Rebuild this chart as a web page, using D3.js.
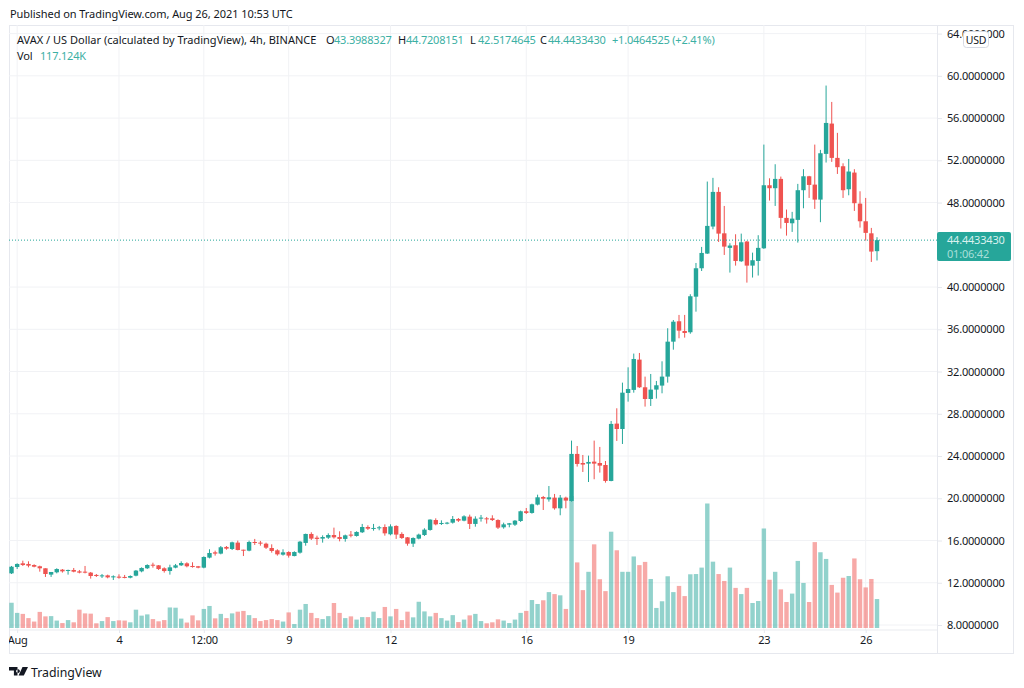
<!DOCTYPE html>
<html>
<head>
<meta charset="utf-8">
<script src="https://cdn.jsdelivr.net/npm/d3@7"></script>
<style>
  html, body { margin: 0; padding: 0; background: #fff; }
  svg { display: block; }
  text { font-family: "Noto Sans", sans-serif; fill: #131722; letter-spacing: -0.2px; }
</style>
</head>
<body>
<script>
// bars are 4h, Jul 31 20:00 -> Aug 26 08:00
const opens = [
  12.89,13.49,13.84,13.78,13.68,13.56,13.37,12.77,12.99,13.24,
  13.15,13.21,13.08,13.05,12.96,12.74,12.61,12.70,12.51,12.58,
  12.55,12.48,12.67,13.08,13.37,13.71,13.65,13.37,13.11,13.43,
  13.65,13.84,13.59,13.56,13.43,14.38,14.88,14.76,15.39,15.20,
  15.80,15.13,15.04,15.86,15.80,15.70,15.29,15.07,14.66,14.91,
  14.53,14.85,15.77,16.62,16.27,16.18,16.27,16.52,16.33,16.15,
  16.56,16.43,16.78,17.28,17.12,17.16,17.28,16.59,17.38,16.62,
  16.30,15.70,16.18,16.52,17.00,17.94,17.57,17.60,17.69,18.04,
  17.88,18.26,17.57,18.07,18.10,18.10,17.94,17.25,17.50,17.50,
  17.85,18.77,18.61,19.40,20.12,19.90,20.06,19.05,20.06,19.74,
  24.20,23.34,23.28,23.47,23.34,23.15,21.64,27.07,26.56,29.97,
  30.26,33.13,30.51,29.40,30.29,30.67,31.52,34.83,36.76,35.84,
  35.72,39.09,41.78,43.17,45.73,49.01,45.09,43.71,43.96,42.44,
  44.31,42.03,42.47,43.67,49.64,49.36,50.24,46.55,46.04,46.36,
  49.17,50.49,49.70,48.28,52.61,55.48,52.23,51.44,49.26,50.84,
  47.90,46.23,45.09,43.3988];
const highs = [
  13.59,13.84,14.09,14.03,13.75,13.62,13.37,13.02,13.37,13.30,
  13.24,13.40,13.21,13.59,13.02,12.83,12.83,12.77,12.70,12.80,
  12.74,12.70,13.21,13.46,13.75,13.90,13.68,13.46,13.71,13.78,
  14.03,13.94,13.94,13.59,14.50,15.17,15.04,15.48,15.48,15.89,
  15.99,15.13,15.99,16.15,15.96,15.80,15.64,15.17,15.17,14.98,
  14.98,15.96,16.65,16.78,16.46,16.49,16.68,17.22,16.87,16.56,
  16.90,16.87,17.57,17.44,17.57,17.38,17.53,17.53,17.44,16.78,
  16.33,16.30,16.65,17.16,18.01,18.10,17.91,17.76,18.32,18.13,
  18.39,18.45,18.29,18.42,18.23,18.39,18.01,17.69,17.66,17.94,
  18.83,19.08,19.49,20.34,20.22,21.16,20.41,20.31,20.15,25.46,
  24.95,24.10,24.04,25.46,24.86,23.53,27.32,28.52,30.95,32.40,
  33.70,33.76,31.52,31.77,31.11,32.97,36.10,36.88,37.36,37.36,
  39.32,42.28,43.80,49.99,50.34,49.45,47.68,44.15,45.00,45.06,
  44.37,43.26,44.91,53.49,50.30,51.63,50.46,47.34,47.12,49.77,
  51.16,50.53,53.49,52.99,59.08,57.53,54.60,51.72,52.13,51.16,
  49.07,48.44,45.60,44.7208];
const lows = [
  12.83,13.30,13.59,13.46,13.46,13.05,12.55,12.55,12.89,12.96,
  12.77,12.99,12.89,12.89,12.39,12.55,12.45,12.42,12.26,12.39,
  12.42,12.42,12.61,12.99,13.30,13.43,13.21,12.96,12.77,13.37,
  13.59,13.46,13.43,13.37,13.37,14.31,14.57,14.69,15.13,15.10,
  15.07,14.53,14.98,15.58,15.51,15.20,14.85,14.57,14.57,14.38,
  14.50,14.76,15.51,16.05,15.58,15.80,16.15,16.18,15.92,15.89,
  16.30,16.37,16.71,17.00,16.93,16.97,16.46,16.49,16.15,16.15,
  15.51,15.39,16.11,16.43,16.93,17.44,17.47,17.53,17.60,17.76,
  17.82,17.09,17.31,17.79,17.60,17.85,17.09,17.12,17.25,17.38,
  17.76,18.51,18.54,19.33,18.89,19.68,18.92,18.39,19.05,19.68,
  23.00,22.49,21.54,21.80,22.43,21.48,21.61,25.43,25.14,29.15,
  30.00,30.45,28.68,28.74,29.44,29.94,30.95,34.07,35.15,35.21,
  35.58,37.67,41.52,43.14,45.47,44.27,43.04,41.37,42.03,42.38,
  40.42,40.90,41.09,43.61,48.19,47.68,45.54,44.87,45.22,44.21,
  47.46,48.44,47.40,46.14,51.79,51.85,50.71,48.44,48.69,47.21,
  45.63,44.40,42.38,42.5175];
const closes = [
  13.52,13.78,13.68,13.62,13.52,13.37,12.83,13.02,13.30,13.08,
  13.21,13.05,12.96,12.99,12.64,12.64,12.70,12.51,12.61,12.48,
  12.48,12.64,13.15,13.40,13.68,13.65,13.30,13.11,13.46,13.65,
  13.87,13.56,13.49,13.43,14.44,14.82,14.76,15.36,15.23,15.83,
  15.10,15.04,15.86,15.80,15.73,15.32,15.01,14.69,14.88,14.57,
  14.91,15.89,16.62,16.18,16.15,16.33,16.52,16.30,16.15,16.49,
  16.46,16.81,17.28,17.12,17.19,17.25,16.68,17.34,16.56,16.24,
  15.70,16.24,16.56,17.03,17.98,17.53,17.66,17.69,18.04,17.88,
  18.29,17.57,18.07,18.17,18.04,17.94,17.22,17.53,17.63,17.88,
  18.77,18.61,19.43,20.09,19.96,20.09,19.05,20.06,19.78,24.20,
  23.25,23.19,23.44,23.28,23.09,21.64,27.04,26.56,30.00,30.35,
  33.19,30.51,29.40,30.29,30.70,31.52,34.83,36.72,35.87,35.65,
  39.13,41.78,43.23,45.79,49.01,45.06,43.83,43.93,42.47,44.24,
  42.03,42.54,43.71,49.64,49.36,50.24,46.55,46.07,46.48,49.17,
  50.49,49.67,48.28,52.67,55.54,52.23,51.35,49.17,50.94,47.94,
  46.23,45.13,43.36,44.4433];
// volume in thousands
const volumes = [
  102,61,57,40,26,65,47,48,30,20,
  32,23,74,59,58,19,28,44,28,31,
  30,23,74,50,55,36,27,32,83,82,
  38,22,51,31,77,89,39,57,40,59,
  66,69,52,40,28,32,36,32,26,63,
  16,74,97,61,40,36,48,101,61,40,
  47,34,44,44,66,40,85,47,77,32,
  66,43,106,67,47,61,40,30,52,24,
  34,51,57,28,19,23,35,30,20,34,
  61,69,113,97,112,145,137,132,77,533,
  265,153,227,338,197,149,389,314,227,227,
  289,254,267,198,81,108,209,145,170,129,
  217,218,244,503,268,218,190,244,162,137,
  162,101,109,402,195,227,156,105,139,271,
  182,105,347,306,279,174,143,203,210,281,
  197,164,198,117];

const priceTicks = [8,12,16,20,24,28,32,36,40,48,52,56,60,64];
const timeLabels = ['Aug','4','12:00','9','12','16','19','23','26'];
const timeBars = [1,19,34,49,67,91,109,133,151];

const lastPrice = 44.4433430;
const countdown = '01:06:42';
const legendVals = [
  ['O','43.3988327',326], ['H','44.7208151',398], ['L','42.5174645',470], ['C','44.4433430',540]
];

const UP = '#26a69a', DOWN = '#ef5350', GRID = '#f1f2f5', LINE = '#e6e8ee';
const W = 1024, H = 688;

const svg = d3.select('body').append('svg').attr('width', W).attr('height', H);

const x = d3.scaleLinear().domain([0, opens.length - 1]).range([11.5, 877]);
const y = d3.scaleLinear().domain([8, 64]).range([625, 33.6]);
const yVol = d3.scaleLinear().domain([0, 404]).range([628, 528]);

const bars = d3.range(opens.length).map(i => ({
  i, o: opens[i], h: highs[i], l: lows[i], c: closes[i], v: volumes[i], up: closes[i] >= opens[i]
}));

svg.append('clipPath').attr('id', 'pane').append('rect')
  .attr('x', 9).attr('y', 25).attr('width', 928).attr('height', 629);

// frame
svg.append('rect').attr('x', 9.5).attr('y', 25.5).attr('width', 1004).attr('height', 628)
  .attr('fill', 'none').attr('stroke', LINE);

// grid
svg.append('g').selectAll('line').data(priceTicks).join('line')
  .attr('x1', 9).attr('x2', 937)
  .attr('y1', d => y(d)).attr('y2', d => y(d))
  .attr('stroke', GRID);
svg.append('g').selectAll('line').data(timeBars).join('line')
  .attr('x1', d => x(d)).attr('x2', d => x(d))
  .attr('y1', 25).attr('y2', 630)
  .attr('stroke', GRID);

// volume
svg.append('g').selectAll('rect').data(bars).join('rect')
  .attr('x', d => x(d.i) - 2.2).attr('width', 4.4)
  .attr('y', d => yVol(d.v)).attr('height', d => yVol(0) - yVol(d.v))
  .attr('fill', d => d.up ? UP : DOWN).attr('fill-opacity', 0.5);

// wicks + bodies
svg.append('g').selectAll('line').data(bars).join('line')
  .attr('x1', d => x(d.i)).attr('x2', d => x(d.i))
  .attr('y1', d => y(d.h)).attr('y2', d => y(d.l))
  .attr('stroke', d => d.up ? UP : DOWN);
svg.append('g').selectAll('rect').data(bars).join('rect')
  .attr('x', d => x(d.i) - 2.2).attr('width', 4.4)
  .attr('y', d => y(Math.max(d.o, d.c)))
  .attr('height', d => Math.max(1, Math.abs(y(d.o) - y(d.c))))
  .attr('fill', d => d.up ? UP : DOWN);

// last price line
svg.append('line')
  .attr('x1', 9).attr('x2', 937)
  .attr('y1', y(lastPrice)).attr('y2', y(lastPrice))
  .attr('stroke', UP).attr('stroke-dasharray', '1 2');

// right axis
const yAxis = svg.append('g').attr('transform', 'translate(937,0)')
  .call(d3.axisRight(y).tickValues(priceTicks).tickFormat(d3.format('.7f')).tickSize(5).tickPadding(5));
yAxis.select('.domain').remove();
yAxis.selectAll('line').attr('stroke', LINE);
yAxis.selectAll('text').style('font-size', '11px');
svg.append('line').attr('x1', 937.5).attr('x2', 937.5).attr('y1', 25).attr('y2', 654).attr('stroke', LINE);

// time axis, clip sits on the outer g so "Aug" gets cut at the pane edge
svg.append('rect').attr('x', 9).attr('y', 629).attr('width', 928).attr('height', 2).attr('fill', LINE).attr('fill-opacity', 0.45);
const xAxis = svg.append('g').attr('clip-path', 'url(#pane)').append('g').attr('transform', 'translate(0,630)')
  .call(d3.axisBottom(x).tickValues(timeBars).tickFormat((d, i) => timeLabels[i]).tickSize(3).tickPadding(3));
xAxis.select('.domain').remove();
xAxis.selectAll('line').attr('stroke', LINE);
xAxis.selectAll('text').style('font-size', '11px');

// last price tag
const tag = svg.append('g');
tag.append('rect').attr('x', 937).attr('y', 232).attr('width', 74).attr('height', 29).attr('rx', 2).attr('fill', UP);
tag.append('text').attr('x', 947).attr('y', 244).style('font-size', '11px').style('fill', '#d9f1ee').text(d3.format('.7f')(lastPrice));
tag.append('text').attr('x', 947).attr('y', 258).style('font-size', '11px').style('fill', '#a8dfd9').text(countdown);

// USD button
svg.append('rect').attr('x', 963.5).attr('y', 31.5).attr('width', 25).attr('height', 16).attr('rx', 3)
  .attr('fill', '#fff').attr('stroke', '#d6d9e2');
svg.append('text').attr('x', 976).attr('y', 43.5).attr('text-anchor', 'middle').style('font-size', '10.5px').text('USD');

// header and legend
svg.append('text').attr('x', 10).attr('y', 18).style('font-size', '11px').style('letter-spacing', '-0.06px')
  .text('Published on TradingView.com, Aug 26, 2021 10:53 UTC');
svg.append('text').attr('x', 17).attr('y', 44).style('font-size', '11px').style('letter-spacing', '0')
  .text('AVAX / US Dollar (calculated by TradingView), 4h, BINANCE');
legendVals.forEach(d => {
  svg.append('text').attr('x', d[2]).attr('y', 44).style('font-size', '11px').text(d[0]);
  svg.append('text').attr('x', d[2] + 8).attr('y', 44).style('font-size', '11px').style('fill', '#3cb0a4').text(d[1]);
});
svg.append('text').attr('x', 612).attr('y', 44).style('font-size', '11px').style('fill', '#3cb0a4').text('+1.0464525 (+2.41%)');
svg.append('text').attr('x', 17).attr('y', 60).style('font-size', '11px').text('Vol');
svg.append('text').attr('x', 40).attr('y', 60).style('font-size', '11px').style('fill', '#3cb0a4').text('117.124K');

// logo
svg.append('path').attr('fill', '#131722')
  .attr('d', 'M9 667h8.5v8.5h-3.6v-5h-4.9z M18 669.2a1.9 1.9 0 1 0 0.01 0z M22.5 667h5.5l-4.2 8.5h-5.2z');
svg.append('text').attr('x', 31).attr('y', 677).style('font-size', '12.3px').style('letter-spacing', '0').text('TradingView');
</script>
</body>
</html>
